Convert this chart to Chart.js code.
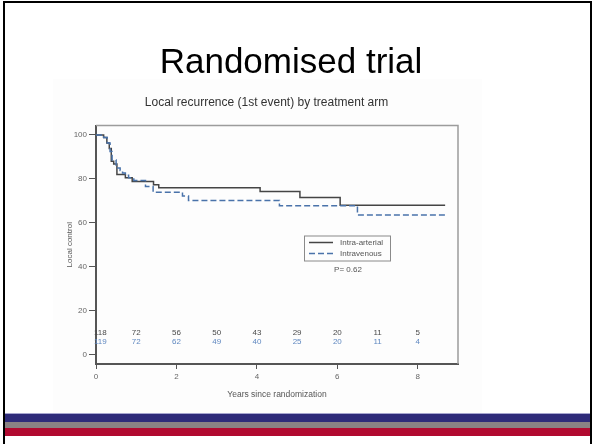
<!DOCTYPE html>
<html>
<head>
<meta charset="utf-8">
<script src="https://cdn.jsdelivr.net/npm/chart.js@4.4.0/dist/chart.umd.min.js"></script>
<style>
  html, body { margin: 0; padding: 0; background: #fff; }
  #slide { position: relative; width: 592px; height: 444px; overflow: hidden; background: #fff;
           font-family: "Liberation Sans", Arial, sans-serif; }
  #frame { position: absolute; left: 3px; top: 1px; width: 585px; height: 470px; border: 2px solid #000; }
  #title { position: absolute; left: 0; top: 41px; width: 582px; text-align: center;
           font-size: 35px; line-height: 40px; color: #000; }
  #subtitle { position: absolute; left: 53px; top: 95px; width: 427px; text-align: center;
              font-size: 12px; line-height: 14px; color: #333; }
  #plotBox { position: absolute; left: 53px; top: 79px; width: 429px; height: 334px; background: #fdfdfd; }
  .band { position: absolute; left: 5px; width: 586px; }
</style>
</head>
<body>
<div id="slide">
  <div class="band" style="top:413px;height:1px;background:#a7a6cf"></div>
  <div class="band" style="top:414px;height:8px;background:#2e2b79"></div>
  <div class="band" style="top:422px;height:6px;background:#8a8283"></div>
  <div class="band" style="top:428px;height:8px;background:#b10a30"></div>
  <div id="plotBox"><canvas id="km" width="429" height="334"></canvas></div>
  <div id="subtitle">Local recurrence (1st event) by treatment arm</div>
  <div id="title">Randomised trial</div>
  <div id="frame"></div>
</div>

<script>
// Kaplan-Meier steps (years, % local control)
const TIMES_IA = [0, 0.19, 0.27, 0.33, 0.38, 0.44, 0.52, 0.73, 0.9, 1.43, 1.56, 4.08, 5.07, 6.07, 8.68];
const SURV_IA  = [100, 98.9, 96.4, 93.8, 88, 86.8, 82, 80.5, 78.9, 77.4, 76, 74.3, 71.6, 68, 68];

const TIMES_IV = [0, 0.19, 0.28, 0.35, 0.4, 0.5, 0.6, 0.66, 0.73, 0.81, 0.94, 1.23, 1.42, 2.15, 2.3, 4.56, 6.5, 8.68];
const SURV_IV  = [100, 98.9, 96.4, 92.5, 88.6, 85, 83.8, 82.7, 81.7, 80.5, 79.3, 76.6, 74, 72.3, 70.2, 67.8, 63.6, 63.6];

// numbers at risk
const RISK_YEARS = [0, 1, 2, 3, 4, 5, 6, 7, 8];
const RISK_IA    = [118, 72, 56, 50, 43, 29, 20, 11, 5];
const RISK_IV    = [119, 72, 62, 49, 40, 25, 20, 11, 4];

const LABELS  = ['Intra-arterial', 'Intravenous'];
const P_TEXT  = 'P= 0.62';
const X_TICKS = [0, 2, 4, 6, 8];
const Y_TICKS = [0, 20, 40, 60, 80, 100];

const DARK = '#454545';
const BLUE = '#4a73aa';
const FONT = '"Liberation Sans", Arial, sans-serif';

function toPoints(xs, ys) {
  return xs.map((x, i) => ({ x: x, y: ys[i] }));
}

const kmExtras = {
  id: 'kmExtras',
  afterDraw(chart) {
    const { ctx, chartArea: a, scales: { x, y } } = chart;
    ctx.save();

    // light top / right edges of the plot box
    ctx.strokeStyle = '#9c9c9c';
    ctx.lineWidth = 1.5;
    ctx.beginPath();
    ctx.moveTo(a.left, a.top);
    ctx.lineTo(a.right, a.top);
    ctx.lineTo(a.right, a.bottom);
    ctx.stroke();

    // numbers at risk
    ctx.font = '8px ' + FONT;
    ctx.textAlign = 'center';
    ctx.textBaseline = 'middle';
    const rows = [[RISK_IA, 10, '#4a4a4a'], [RISK_IV, 5.9, '#5f88c0']];
    rows.forEach(([vals, yv, col]) => {
      ctx.fillStyle = col;
      vals.forEach((n, i) => {
        const s = String(n);
        const w = ctx.measureText(s).width;
        const cx = Math.max(x.getPixelForValue(RISK_YEARS[i]), a.left + w / 2 - 2);
        ctx.fillText(s, cx, y.getPixelForValue(yv));
      });
    });

    // legend box
    const bx = a.left + 208, by = a.top + 110;
    ctx.strokeStyle = '#8a8a8a';
    ctx.lineWidth = 1;
    ctx.strokeRect(bx + 0.5, by + 0.5, 86, 25);

    ctx.lineWidth = 1.5;
    ctx.strokeStyle = DARK;
    ctx.beginPath();
    ctx.moveTo(bx + 5, by + 7);
    ctx.lineTo(bx + 29, by + 7);
    ctx.stroke();

    ctx.strokeStyle = BLUE;
    ctx.setLineDash([6, 3]);
    ctx.beginPath();
    ctx.moveTo(bx + 5, by + 18);
    ctx.lineTo(bx + 29, by + 18);
    ctx.stroke();
    ctx.setLineDash([]);

    ctx.fillStyle = '#555';
    ctx.textAlign = 'left';
    ctx.fillText(LABELS[0], bx + 36, by + 7);
    ctx.fillText(LABELS[1], bx + 36, by + 18);
    ctx.textAlign = 'center';
    ctx.fillText(P_TEXT, bx + 44, by + 34);

    ctx.restore();
  }
};

new Chart(document.getElementById('km').getContext('2d'), {
  type: 'line',
  data: {
    datasets: [{
      label: LABELS[1],
      data: toPoints(TIMES_IV, SURV_IV),
      borderColor: BLUE,
      borderWidth: 1.5,
      borderDash: [6, 3],
      stepped: true,
      pointRadius: 0,
      fill: false
    }, {
      label: LABELS[0],
      data: toPoints(TIMES_IA, SURV_IA),
      borderColor: DARK,
      borderWidth: 1.5,
      stepped: true,
      pointRadius: 0,
      fill: false
    }]
  },
  options: {
    responsive: false,
    animation: false,
    layout: { padding: { left: 0, right: 24, top: 46.5, bottom: 0 } },
    plugins: {
      legend: { display: false },
      tooltip: { enabled: false },
      title: { display: false }
    },
    scales: {
      x: {
        type: 'linear',
        min: 0,
        max: 9,
        afterFit: s => { s.height = 49; },
        afterBuildTicks: s => { s.ticks = X_TICKS.map(v => ({ value: v })); },
        grid: { drawOnChartArea: false, drawTicks: true, tickLength: 5, color: '#555', lineWidth: 1 },
        border: { display: true, color: '#555', width: 2 },
        ticks: { color: '#666', font: { family: FONT, size: 8 }, padding: 3, maxRotation: 0 },
        title: {
          display: true,
          text: 'Years since randomization',
          color: '#555',
          font: { family: FONT, size: 8.5 },
          padding: { top: 0, bottom: 13 }
        }
      },
      y: {
        type: 'linear',
        min: -4.1,
        max: 104.3,
        afterFit: s => { s.width = 43; },
        afterBuildTicks: s => { s.ticks = Y_TICKS.map(v => ({ value: v })); },
        grid: { drawOnChartArea: false, drawTicks: true, tickLength: 7, color: '#555', lineWidth: 1 },
        border: { display: true, color: '#555', width: 2 },
        ticks: { color: '#666', font: { family: FONT, size: 8 }, padding: 2 },
        title: {
          display: true,
          text: 'Local control',
          color: '#555',
          font: { family: FONT, size: 8 },
          padding: { top: 12.2, bottom: 0 }
        }
      }
    }
  },
  plugins: [kmExtras]
});
</script>
</body>
</html>
